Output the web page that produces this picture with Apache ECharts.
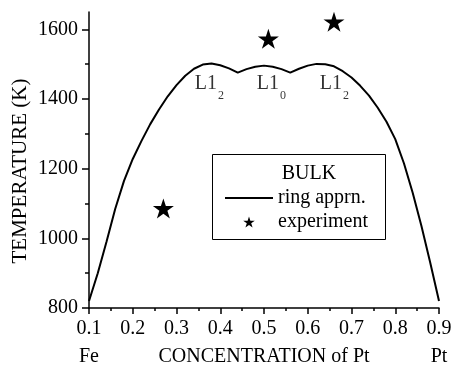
<!DOCTYPE html>
<html>
<head>
<meta charset="utf-8">
<script src="https://cdn.jsdelivr.net/npm/echarts@6/dist/echarts.min.js"></script>
<style>
  html, body { margin: 0; padding: 0; background: #fff; }
  #chart { width: 454px; height: 367px; }
</style>
</head>
<body>
<div id="chart"></div>
<script>
// Order–disorder temperature of bulk Fe–Pt alloys vs. Pt concentration
const concentration = [0.10, 0.12, 0.14, 0.16, 0.18, 0.20, 0.22, 0.24, 0.26, 0.28,
  0.30, 0.32, 0.34, 0.36, 0.38, 0.40, 0.42, 0.44, 0.46, 0.48, 0.50, 0.52, 0.54,
  0.56, 0.58, 0.60, 0.62, 0.64, 0.66, 0.68, 0.70, 0.72, 0.74, 0.76, 0.78, 0.80,
  0.82, 0.84, 0.86, 0.88, 0.90];
const ringTemperature = [820, 900, 990, 1085, 1165, 1228, 1280, 1328, 1370, 1408,
  1440, 1467, 1487, 1499, 1502, 1497, 1488, 1476, 1486, 1493, 1496, 1493, 1486,
  1476, 1487, 1496, 1501, 1500, 1494, 1480, 1462, 1438, 1410, 1375, 1335, 1285,
  1215, 1130, 1035, 930, 820];

// Measured transition temperatures
const expConcentration = [0.27, 0.51, 0.66];
const expTemperature = [1086, 1573, 1622];

// Ordered-phase annotations
const phaseX = [0.375, 0.517, 0.661];
const phaseT = [1444, 1444, 1444];
const phaseName = ['L1', 'L1', 'L1'];
const phaseSub = ['2', '0', '2'];

// Axis ticks and labels
const xMajor = [0.1, 0.2, 0.3, 0.4, 0.5, 0.6, 0.7, 0.8, 0.9];
const xMinor = [0.15, 0.25, 0.35, 0.45, 0.55, 0.65, 0.75, 0.85];
const yMajor = [800, 1000, 1200, 1400, 1600];
const yMinor = [900, 1100, 1300, 1500];
const xEndNames = { '0.1': 'Fe', '0.9': 'Pt' };

const FONT = '"Liberation Serif", "Times New Roman", serif';
const FS = 20;

function starPath() {
  let s = '';
  for (let k = 0; k < 10; k++) {
    const a = -Math.PI / 2 + k * Math.PI / 5;
    const r = k % 2 ? 0.382 : 1;
    s += (k ? 'L' : 'M') + (r * Math.cos(a)).toFixed(4) + ',' + (r * Math.sin(a)).toFixed(4);
  }
  return 'path://' + s + 'Z';
}
const STAR = starPath();

const chart = echarts.init(document.getElementById('chart'), null, { renderer: 'canvas' });

const baseX = {
  type: 'value', min: 0.1, max: 0.9, position: 'bottom',
  splitLine: { show: false }
};
const baseY = {
  type: 'value', min: 800, max: 1650, position: 'left',
  splitLine: { show: false }
};

chart.setOption({
  backgroundColor: '#fff',
  animation: false,
  textStyle: { fontFamily: FONT, color: '#000' },
  grid: { left: 89, right: 15, top: 12, bottom: 59, containLabel: false, outerBoundsMode: 'none' },
  xAxis: [
    Object.assign({}, baseX, {
      name: 'CONCENTRATION of Pt',
      nameLocation: 'middle',
      nameGap: 39,
      nameMoveOverlap: false,
      nameTextStyle: { fontFamily: FONT, fontSize: FS, color: '#000' },
      axisLine: { show: true, lineStyle: { color: '#000', width: 1.5 } },
      axisTick: { show: true, customValues: xMajor, length: 6, inside: false,
        lineStyle: { color: '#000', width: 1.5 } },
      axisLabel: {
        show: true, customValues: xMajor, margin: 7,
        fontFamily: FONT, fontSize: FS, color: '#000', lineHeight: 28,
        formatter: function (v) {
          const key = v.toFixed(1);
          return key + '\n' + (xEndNames[key] || ' ');
        }
      }
    }),
    Object.assign({}, baseX, {
      axisLine: { show: false },
      axisTick: { show: true, customValues: xMinor, length: 3, inside: false,
        lineStyle: { color: '#000', width: 1.5 } },
      axisLabel: { show: false }
    })
  ],
  yAxis: [
    Object.assign({}, baseY, {
      name: 'TEMPERATURE (K)',
      nameLocation: 'middle',
      nameGap: 58,
      nameMoveOverlap: false,
      nameTextStyle: { fontFamily: FONT, fontSize: 21, color: '#000', padding: [0, 22, 0, 0] },
      axisLine: { show: true, lineStyle: { color: '#000', width: 1.5 } },
      axisTick: { show: true, customValues: yMajor, length: 7, inside: false,
        lineStyle: { color: '#000', width: 1.5 } },
      axisLabel: {
        show: true, customValues: yMajor, margin: 11,
        fontFamily: FONT, fontSize: FS, color: '#000',
        formatter: function (v) { return String(v); }
      }
    }),
    Object.assign({}, baseY, {
      axisLine: { show: false },
      axisTick: { show: true, customValues: yMinor, length: 4, inside: false,
        lineStyle: { color: '#000', width: 1.5 } },
      axisLabel: { show: false }
    })
  ],
  legend: {
    orient: 'vertical',
    left: 224, top: 188,
    padding: 0,
    itemWidth: 48, itemHeight: 11, itemGap: 4,
    textStyle: { fontFamily: FONT, fontSize: FS, color: '#000' },
    data: [
      { name: 'ring apprn.', itemStyle: { opacity: 0 } },
      { name: 'experiment' }
    ]
  },
  graphic: [
    {
      type: 'rect', z: 0,
      shape: { x: 212.5, y: 154.5, width: 173, height: 85 },
      style: { fill: '#fff', stroke: '#000', lineWidth: 1 }
    },
    {
      type: 'text', z: 1,
      x: 309, y: 174,
      style: { text: 'BULK', font: FS + 'px ' + FONT, fill: '#000',
        textAlign: 'center', textVerticalAlign: 'middle' }
    }
  ],
  series: [
    {
      name: 'ring apprn.',
      type: 'line',
      symbol: 'none',
      smooth: false,
      lineStyle: { color: '#000', width: 2 },
      itemStyle: { color: '#000' },
      data: concentration.map((c, i) => [c, ringTemperature[i]]),
      z: 3
    },
    {
      name: 'experiment',
      type: 'scatter',
      symbol: STAR,
      symbolSize: 21,
      symbolKeepAspect: true,
      itemStyle: { color: '#000', opacity: 1 },
      data: expConcentration.map((c, i) => [c, expTemperature[i]]),
      z: 4
    },
    {
      name: 'phases',
      type: 'scatter',
      symbolSize: 0,
      silent: true,
      itemStyle: { color: 'transparent' },
      label: {
        show: true,
        position: 'inside',
        formatter: function (p) {
          return '{m|' + phaseName[p.dataIndex] + '}{s|' + phaseSub[p.dataIndex] + '}';
        },
        rich: {
          m: { fontFamily: FONT, fontSize: FS, color: '#000', lineHeight: 20 },
          s: { fontFamily: FONT, fontSize: 12, color: '#000', lineHeight: 12, padding: [24, 0, 0, 1] }
        }
      },
      data: phaseX.map((c, i) => [c, phaseT[i]]),
      z: 5
    }
  ]
});
</script>
</body>
</html>
